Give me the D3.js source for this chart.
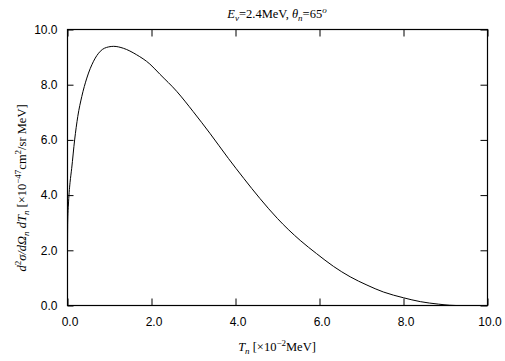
<!DOCTYPE html>
<html><head><meta charset="utf-8">
<script src="https://cdn.jsdelivr.net/npm/d3@7"></script>
<style>
body{margin:0;background:#fff;}
svg{display:block;}
</style></head>
<body>
<svg id="c" width="505" height="361"></svg>
<script>
const T = [0, 0.005, 0.02, 0.04, 0.06, 0.1, 0.17, 0.245, 0.34, 0.46, 0.62, 0.78, 0.98, 1.1, 1.33, 1.64, 1.96, 2.2, 2.6, 2.99, 3.39, 3.83, 4.2, 4.58, 5.0, 5.54, 5.93, 6.33, 6.73, 7.13, 7.52, 8.0, 8.4, 8.83, 9.1, 9.25];
const V = [2.0, 3.0, 3.6, 4.1, 4.45, 4.97, 6.0, 6.85, 7.57, 8.24, 8.85, 9.21, 9.37, 9.39, 9.32, 9.09, 8.75, 8.38, 7.76, 7.03, 6.24, 5.33, 4.6, 3.88, 3.15, 2.36, 1.88, 1.42, 1.04, 0.74, 0.49, 0.28, 0.14, 0.05, 0.01, 0.0];
const xTicks = [0, 2, 4, 6, 8, 10];
const yTicks = [0, 2, 4, 6, 8, 10];

const SANS = "'Liberation Sans', Arimo, Arial, Helvetica, sans-serif";
const SERIF = "'Liberation Serif', Tinos, 'Times New Roman', Times, serif";

const svg = d3.select("#c");
const L = 67.5, R = 487.5, Tp = 29.5, B = 305.5;
const x = d3.scaleLinear().domain([0, 10]).range([L, R]);
const y = d3.scaleLinear().domain([0, 10]).range([B, Tp]);
const fmt = d3.format(".1f");

const gb = svg.append("g").attr("transform", `translate(0,${B})`)
  .call(d3.axisBottom(x).tickValues(xTicks).tickFormat(fmt).tickSize(-7).tickPadding(12));
gb.selectAll(".tick text").attr("dx", 2);
svg.append("g").attr("transform", `translate(0,${Tp})`)
  .call(d3.axisTop(x).tickValues(xTicks).tickFormat("").tickSize(-7));
svg.append("g").attr("transform", `translate(${L},0)`)
  .call(d3.axisLeft(y).tickValues(yTicks).tickFormat(fmt).tickSize(-6).tickPadding(10));
svg.append("g").attr("transform", `translate(${R},0)`)
  .call(d3.axisRight(y).tickValues(yTicks).tickFormat("").tickSize(-7));
svg.selectAll(".domain").remove();
svg.selectAll(".tick line").attr("stroke", "#000");
svg.selectAll("g").attr("font-family", SANS).attr("font-size", 12);
svg.selectAll(".tick text").attr("fill", "#000");

svg.append("rect").attr("x", L).attr("y", Tp).attr("width", R - L).attr("height", B - Tp)
  .attr("fill", "none").attr("stroke", "#000").attr("stroke-width", 1.2);

const pts = T.map((t, i) => [t, V[i]]);
svg.append("path").datum(pts)
  .attr("d", d3.line().x(d => x(d[0])).y(d => y(d[1])).curve(d3.curveMonotoneX))
  .attr("fill", "none").attr("stroke", "#000").attr("stroke-width", 1);

function serif(sel){ return sel.attr("font-family", SERIF).attr("fill", "#000").attr("font-size", 12.5); }

const tt = serif(svg.append("text")).attr("x", 277).attr("y", 18).attr("text-anchor", "middle");
tt.append("tspan").attr("font-style", "italic").text("E");
tt.append("tspan").attr("font-style", "italic").attr("font-size", 9).attr("dy", 3).text("ν");
tt.append("tspan").attr("dy", -3).text("=2.4MeV,  ");
tt.append("tspan").attr("font-style", "italic").text("θ");
tt.append("tspan").attr("font-style", "italic").attr("font-size", 9).attr("dy", 3).text("n");
tt.append("tspan").attr("dy", -3).text("=65");
tt.append("tspan").attr("font-style", "italic").attr("font-size", 9).attr("dy", -5).text("o");

const xl = serif(svg.append("text")).attr("x", 277).attr("y", 351).attr("text-anchor", "middle");
xl.append("tspan").attr("font-style", "italic").text("T");
xl.append("tspan").attr("font-style", "italic").attr("font-size", 9).attr("dy", 3).text("n");
xl.append("tspan").attr("dy", -3).text(" [×10");
xl.append("tspan").attr("font-size", 9).attr("dy", -5).text("−2");
xl.append("tspan").attr("dy", 5).text("MeV]");

const yl = serif(svg.append("text")).attr("transform", "translate(26,188) rotate(-90)").attr("text-anchor", "middle");
yl.append("tspan").attr("font-style", "italic").text("d");
yl.append("tspan").attr("font-size", 9).attr("dy", -5).text("2");
yl.append("tspan").attr("font-style", "italic").attr("dy", 5).text("σ/dΩ");
yl.append("tspan").attr("font-style", "italic").attr("font-size", 9).attr("dy", 3).text("n");
yl.append("tspan").attr("font-style", "italic").attr("dy", -3).text(" dT");
yl.append("tspan").attr("font-style", "italic").attr("font-size", 9).attr("dy", 3).text("n");
yl.append("tspan").attr("dy", -3).text(" [×10");
yl.append("tspan").attr("font-size", 9).attr("dy", -5).text("−47");
yl.append("tspan").attr("dy", 5).text("cm");
yl.append("tspan").attr("font-size", 9).attr("dy", -5).text("2");
yl.append("tspan").attr("dy", 5).text("/sr MeV]");
</script>
</body></html>
